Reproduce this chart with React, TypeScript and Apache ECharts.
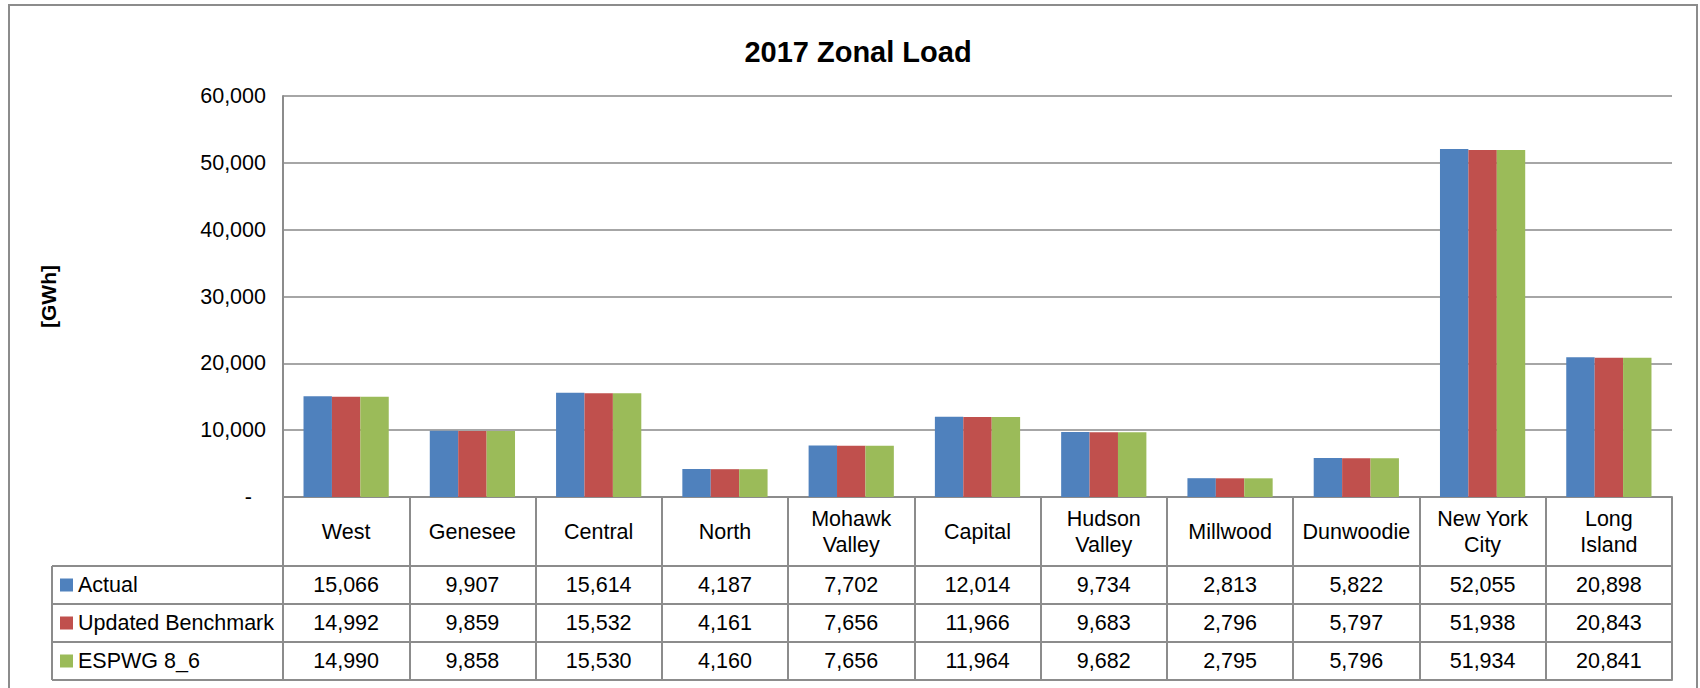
import React, { useEffect, useRef } from "react";
import * as echarts from "echarts";

const categories = ["West", "Genesee", "Central", "North", "Mohawk Valley", "Capital", "Hudson Valley", "Millwood", "Dunwoodie", "New York City", "Long Island"];
const seriesNames = ["Actual", "Updated Benchmark", "ESPWG 8_6"];
const actual = [15066, 9907, 15614, 4187, 7702, 12014, 9734, 2813, 5822, 52055, 20898];
const updatedBenchmark = [14992, 9859, 15532, 4161, 7656, 11966, 9683, 2796, 5797, 51938, 20843];
const espwg = [14990, 9858, 15530, 4160, 7656, 11964, 9682, 2795, 5796, 51934, 20841];
const colors = ["#4F81BD", "#C0504D", "#9BBB59"];

const FONT = "'Liberation Sans', Arial, sans-serif";
const FS = 21.5;
const LINE = "#8c8c8c";
const GRID = "#a6a6a6";

const fmt = (v: number) => v.toLocaleString("en-US");
const wrap = (s: string) => {
  const i = s.lastIndexOf(" ");
  return i > 0 ? s.slice(0, i) + "\n" + s.slice(i + 1) : s;
};

export default function App() {
  const ref = useRef<HTMLDivElement>(null);
  useEffect(() => {
    if (!ref.current) return;
    const chart = echarts.init(ref.current, null, { renderer: "svg" });
    const gridLeft = 283, gridTop = 96, gridRight = 1672, axisY = 497;
    const headerH = 69, rowH = 38;
    const rows = [actual, updatedBenchmark, espwg];
    const valueAxes = rows.map((arr, r) => {
      const isLast = r === rows.length - 1;
      return {
        type: "category",
        data: categories,
        position: "bottom",
        gridIndex: 0,
        offset: isLast ? headerH + rowH * (r + 1) : headerH + rowH * r,
        axisLine: { show: true, lineStyle: { color: LINE, width: 2 } },
        axisTick: { show: false },
        axisLabel: {
          show: true,
          interval: 0,
          inside: isLast,
          margin: rowH / 2,
          verticalAlign: "middle",
          fontFamily: FONT,
          fontSize: FS,
          color: "#000",
          formatter: (_v: string, i: number) => fmt(arr[i]),
        },
        splitLine: { show: false },
      };
    });
    const extraLine = {
      type: "category",
      data: categories,
      position: "bottom",
      gridIndex: 0,
      offset: headerH + rowH * 2,
      axisLine: { show: true, lineStyle: { color: LINE, width: 2 } },
      axisTick: { show: false },
      axisLabel: { show: false },
      splitLine: { show: false },
    };
    const tableTop = axisY + headerH;
    const tableBottom = axisY + headerH + rowH * 3;
    const legendLeft = 52;
    const graphicLines: any[] = [];
    for (let r = 0; r <= 3; r++) {
      const y = tableTop + rowH * r;
      graphicLines.push({ type: "line", shape: { x1: legendLeft, y1: y, x2: gridLeft, y2: y }, style: { stroke: LINE, lineWidth: 2 } });
    }
    graphicLines.push({ type: "line", shape: { x1: legendLeft, y1: tableTop, x2: legendLeft, y2: tableBottom }, style: { stroke: LINE, lineWidth: 2 } });

    const legendItemH = 24;
    chart.setOption({
      animation: false,
      backgroundColor: "#fff",
      textStyle: { fontFamily: FONT },
      title: {
        text: "2017 Zonal Load",
        left: 853,
        top: 32,
        textAlign: "center",
        textStyle: { fontFamily: FONT, fontSize: 29, fontWeight: "bold", color: "#000" },
      },
      graphic: [
        { type: "rect", shape: { x: 9, y: 5, width: 1688, height: 720 }, style: { fill: "none", stroke: LINE, lineWidth: 2 }, silent: true },
        ...graphicLines,
      ],
      legend: {
        orient: "vertical",
        left: 60,
        top: tableTop + rowH / 2 - legendItemH / 2,
        padding: 0,
        itemWidth: 13,
        itemHeight: 13,
        itemGap: rowH - legendItemH,
        icon: "rect",
        selectedMode: false,
        data: seriesNames,
        textStyle: { fontFamily: FONT, fontSize: FS, color: "#000", lineHeight: legendItemH },
      },
      grid: { left: gridLeft, top: gridTop, width: gridRight - gridLeft, height: axisY - gridTop, containLabel: false },
      xAxis: [
        {
          type: "category",
          data: categories,
          position: "bottom",
          axisLine: { show: true, lineStyle: { color: LINE, width: 2 } },
          axisTick: { show: true, interval: 0, length: headerH + rowH * 3, lineStyle: { color: LINE, width: 2 } },
          axisLabel: {
            interval: 0,
            margin: headerH / 2,
            verticalAlign: "middle",
            fontFamily: FONT,
            fontSize: FS,
            lineHeight: 26,
            color: "#000",
            formatter: (v: string) => wrap(v),
          },
          splitLine: { show: false },
        },
        ...valueAxes,
        extraLine,
      ],
      yAxis: {
        type: "value",
        min: 0,
        max: 60000,
        interval: 10000,
        name: "[GWh]",
        nameLocation: "middle",
        nameRotate: 90,
        nameGap: gridLeft - 59,
        nameTextStyle: { fontFamily: FONT, fontSize: 21, fontWeight: "bold", color: "#000" },
        axisLine: { show: true, lineStyle: { color: LINE, width: 2 } },
        axisTick: { show: false },
        axisLabel: {
          margin: 17,
          fontFamily: FONT,
          fontSize: FS,
          color: "#000",
          formatter: (v: number) => (v === 0 ? "{d|-}" : fmt(v)),
          rich: { d: { fontFamily: FONT, fontSize: FS, color: "#000", padding: [0, 14, 0, 0] } },
        },
        splitLine: { show: true, lineStyle: { color: GRID, width: 2 } },
      },
      series: rows.map((d, i) => ({
        name: seriesNames[i],
        type: "bar",
        data: d,
        xAxisIndex: 0,
        barGap: "0%",
        barCategoryGap: "32.5%",
        itemStyle: { color: colors[i] },
      })),
    });
    return () => chart.dispose();
  }, []);
  return <div ref={ref} style={{ position: "absolute", left: 0, top: 0, width: 1700, height: 688 }} />;
}
